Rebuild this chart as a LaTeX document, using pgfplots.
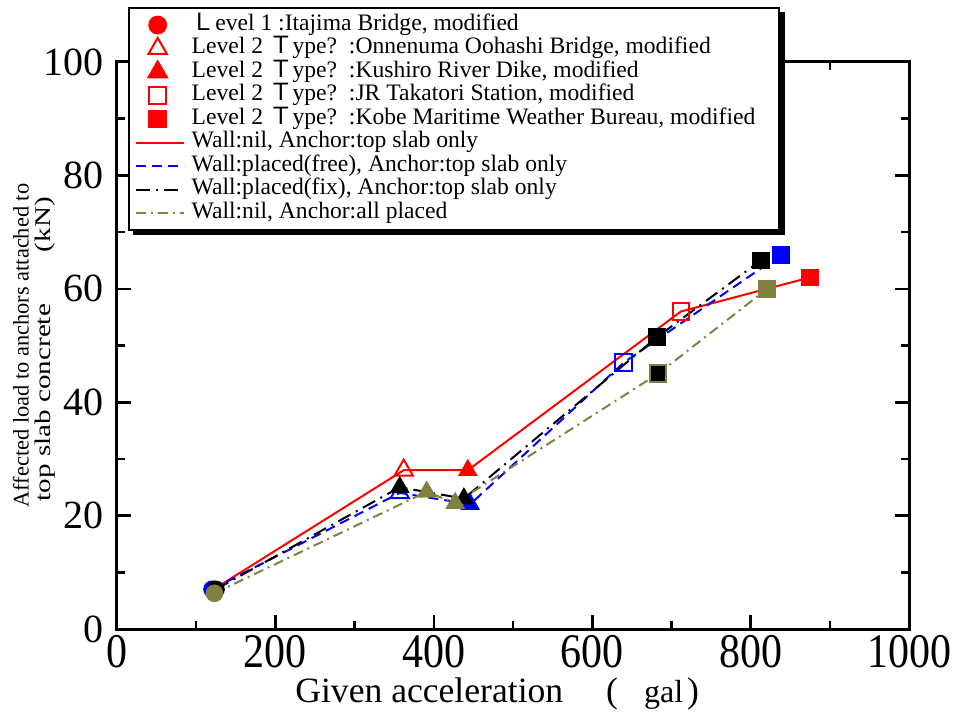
\documentclass[border=0pt]{standalone}
\usepackage{pgfplots}
\pgfplotsset{compat=1.18}
\usepackage{fontspec}
\setmainfont{Liberation Serif}
\newfontfamily\cjk{Noto Sans CJK JP}
\definecolor{olivegr}{RGB}{128,128,64}

\begin{document}
\begin{tikzpicture}
\path[use as bounding box] (-58.5pt,-42pt) rectangle (418pt,314.5pt);
\begin{axis}[
  at={(0,0)}, anchor=south west,
  scale only axis, width=396pt, height=283.5pt,
  xmin=0, xmax=1000, ymin=0, ymax=100,
  xtick={0,200,...,1000}, ytick={0,20,...,100},
  minor x tick num=1, minor y tick num=1,
  tick align=inside, major tick length=7pt, minor tick length=4pt,
  axis line style={line width=1.5pt},
  every tick/.style={black, line width=1.3pt},
  /pgf/number format/assume math mode=true,
  /pgf/number format/1000 sep={},
  xticklabel={\scalebox{1}[1.15]{\pgfmathprintnumber{\tick}}},
  xticklabel style={font=\fontsize{21}{21}\selectfont, inner sep=0pt, yshift=-3pt},
  yticklabel style={font=\fontsize{20}{20}\selectfont, xshift=-3pt},
  xlabel={Given acceleration\hspace{21.5pt}(\hspace{13pt}{\fontsize{16}{16}\selectfont gal}\hspace{2pt})},
  xlabel style={font=\fontsize{17.8}{17}\selectfont, inner sep=0pt, at={(axis description cs:0.2247,-0.1305)}, anchor=base west},
  ylabel={Affected load to anchors attached to\\\hspace{3pt}\scalebox{1.3}[1]{top slab concrete\hspace{20pt}(kN)}},
  ylabel style={align=left, font=\fontsize{11.2}{11}\selectfont, at={(axis description cs:-0.1048,0.5)}, anchor=center},
  legend cell align=left,
  legend image code/.code={\draw[mark repeat=2,mark phase=2] plot coordinates {(0pt,0pt)(11pt,0pt)(24pt,0pt)};},
  legend style={name=leg, at={(axis description cs:0.0135,1.0965)}, anchor=north west,
    draw=black, line width=1pt, fill=white, inner xsep=3pt, inner ysep=2.5pt,
    font=\fontsize{11.8}{12}\selectfont,
    nodes={inner sep=0pt, text height=8.4pt, text depth=3.35pt},
    /tikz/every odd column/.append style={column sep=3.5pt}},
]
\addlegendimage{only marks, mark=*, mark size=4.2pt, red, line width=1pt}
\addlegendentry{{\cjk Ｌ}evel 1 :Itajima Bridge, modified}
\addlegendimage{only marks, mark=triangle, mark size=5.3pt, red, line width=1pt}
\addlegendentry{Level 2 {\cjk Ｔ}ype?\ \ :Onnenuma Oohashi Bridge, modified}
\addlegendimage{only marks, mark=triangle*, mark size=5.3pt, red, line width=1pt}
\addlegendentry{Level 2 {\cjk Ｔ}ype?\ \ :Kushiro River Dike, modified}
\addlegendimage{only marks, mark=square, mark size=4.2pt, red, line width=1pt}
\addlegendentry{Level 2 {\cjk Ｔ}ype?\ \ :JR Takatori Station, modified}
\addlegendimage{only marks, mark=square*, mark size=4.2pt, red, line width=1pt}
\addlegendentry{Level 2 {\cjk Ｔ}ype?\ \ :Kobe Maritime Weather Bureau, modified\rule{9pt}{0pt}}
\addlegendimage{red, line width=1pt}
\addlegendentry{Wall:nil, Anchor:top slab only}
\addlegendimage{blue, line width=1pt, dash pattern=on 5pt off 3pt}
\addlegendentry{Wall:placed(free), Anchor:top slab only}
\addlegendimage{black, line width=1pt, dash pattern=on 7pt off 3pt on 1pt off 3pt}
\addlegendentry{Wall:placed(fix), Anchor:top slab only}
\addlegendimage{olivegr, line width=1pt, dash pattern=on 5pt off 2.5pt on 1pt off 2.5pt}
\addlegendentry{Wall:nil, Anchor:all placed}

% Wall:nil, Anchor:top slab only
\addplot[red, line width=1pt, forget plot] coordinates {(122,7)(362,28)(443,28)(712,56)(875,62)};
\addplot[only marks, mark=*, mark size=4.2pt, red, forget plot] coordinates {(122,7)};
\addplot[only marks, mark=triangle, mark size=5.3pt, red, line width=1pt, forget plot] coordinates {(362,28)};
\addplot[only marks, mark=triangle*, mark size=5.3pt, red, forget plot] coordinates {(443,28)};
\addplot[only marks, mark=square, mark size=4.2pt, red, line width=1pt, forget plot] coordinates {(712,56)};
\addplot[only marks, mark=square*, mark size=4.2pt, red, forget plot] coordinates {(875,62)};

% Wall:placed(free), Anchor:top slab only
\addplot[blue, line width=1pt, dash pattern=on 5pt off 3pt, forget plot] coordinates {(120,7)(357,24)(446,22)(640,47)(838,66)};
\addplot[only marks, mark=*, mark size=4.2pt, blue, forget plot] coordinates {(120,7)};
\addplot[only marks, mark=triangle, mark size=5.3pt, blue, line width=1pt, forget plot] coordinates {(357,24)};
\addplot[only marks, mark=triangle*, mark size=5.3pt, blue, forget plot] coordinates {(446,22)};
\addplot[only marks, mark=square, mark size=4.2pt, blue, line width=1pt, forget plot] coordinates {(640,47)};
\addplot[only marks, mark=square*, mark size=4.2pt, blue, forget plot] coordinates {(838,66)};

% Wall:placed(fix), Anchor:top slab only
\addplot[black, line width=1pt, dash pattern=on 7pt off 3pt on 1pt off 3pt, forget plot] coordinates {(125,7)(357,25)(438,23)(682,51.5)(813,65)};
\addplot[only marks, mark=*, mark size=4.2pt, black, forget plot] coordinates {(125,7)};
\addplot[only marks, mark=triangle*, mark size=5.3pt, black, forget plot] coordinates {(357,25)(438,23)};
\addplot[only marks, mark=square*, mark size=4.2pt, black, forget plot] coordinates {(682,51.5)(813,65)};

% Wall:nil, Anchor:all placed
\addplot[olivegr, line width=1pt, dash pattern=on 5pt off 2.5pt on 1pt off 2.5pt, forget plot] coordinates {(123,6.3)(391,24.2)(427,22.2)(683,45)(821,60)};
\addplot[only marks, mark=*, mark size=4.2pt, olivegr, forget plot] coordinates {(123,6.3)};
\addplot[only marks, mark=triangle*, mark size=5.3pt, olivegr, forget plot] coordinates {(391,24.2)(427,22.2)};
\addplot[only marks, mark=square*, mark size=4.2pt, olivegr, mark options={fill=black}, line width=1pt, forget plot] coordinates {(683,45)};
\addplot[only marks, mark=square*, mark size=4.2pt, olivegr, forget plot] coordinates {(821,60)};
\end{axis}
% shadow of the legend box
\fill[black] ([yshift=-2.5pt]leg.north east) rectangle ([xshift=2.2pt,yshift=-2.2pt]leg.south east);
\fill[black] ([xshift=2.5pt]leg.south west) rectangle ([xshift=2.2pt,yshift=-2.2pt]leg.south east);
\end{tikzpicture}
\end{document}
